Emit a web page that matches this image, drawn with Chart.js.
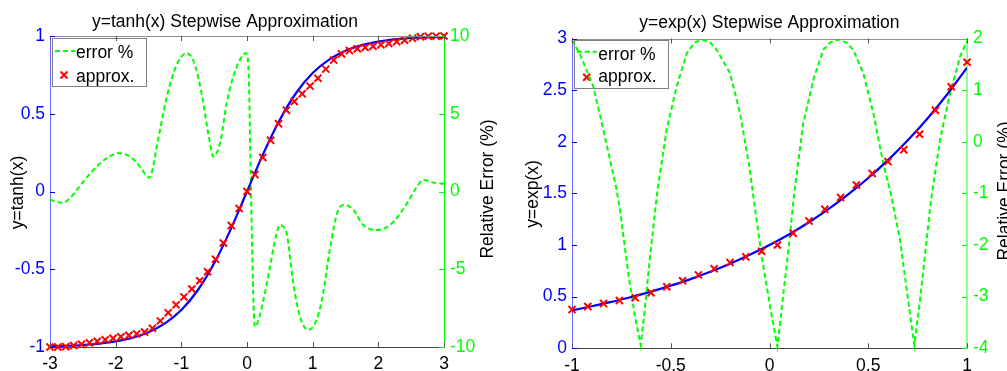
<!DOCTYPE html>
<html>
<head>
<meta charset="utf-8">
<script src="https://cdn.jsdelivr.net/npm/chart.js@4.4.0/dist/chart.umd.min.js"></script>
<style>
  html, body { margin: 0; padding: 0; background: #fff; }
  #wrap { position: relative; width: 1007px; height: 371px; overflow: hidden; }
  .box { position: absolute; top: 0; height: 371px; }
  #leftBox { left: 0; width: 503px; }
  #rightBox { left: 503px; width: 504px; }
</style>
</head>
<body>
<div id="wrap">
  <div class="box" id="leftBox"><canvas id="tanhChart" width="503" height="371"></canvas></div>
  <div class="box" id="rightBox"><canvas id="expChart" width="504" height="371"></canvas></div>
</div>
<script>
// ---- left plot: y = tanh(x) ----
const tanhX = [-3, -2.75, -2.5, -2.25, -2, -1.75, -1.5, -1.25, -1, -0.75, -0.5, -0.25, 0,
  0.25, 0.5, 0.75, 1, 1.25, 1.5, 1.75, 2, 2.25, 2.5, 2.75, 3];
const tanhY = [-0.995, -0.992, -0.987, -0.978, -0.964, -0.941, -0.905, -0.848, -0.762, -0.635, -0.462, -0.245, 0,
  0.245, 0.462, 0.635, 0.762, 0.848, 0.905, 0.941, 0.964, 0.978, 0.987, 0.992, 0.995];

const tanhStepX = [-3, -2.88, -2.76, -2.64, -2.52, -2.4, -2.28, -2.16, -2.04, -1.92, -1.8, -1.68, -1.56,
  -1.44, -1.32, -1.2, -1.08, -0.96, -0.84, -0.72, -0.6, -0.48, -0.36, -0.24, -0.12, 0,
  0.12, 0.24, 0.36, 0.48, 0.6, 0.72, 0.84, 0.96, 1.08, 1.2, 1.32, 1.44, 1.56, 1.68, 1.8,
  1.92, 2.04, 2.16, 2.28, 2.4, 2.52, 2.64, 2.76, 2.88, 3];
const tanhApprox = [-1.0, -1.0, -0.998, -0.991, -0.983, -0.973, -0.963, -0.953, -0.944, -0.934, -0.925, -0.916, -0.904,
  -0.88, -0.832, -0.78, -0.729, -0.678, -0.627, -0.574, -0.516, -0.436, -0.331, -0.219, -0.109, 0,
  0.109, 0.219, 0.329, 0.436, 0.523, 0.579, 0.628, 0.678, 0.729, 0.787, 0.845, 0.885, 0.906, 0.918, 0.926,
  0.934, 0.943, 0.952, 0.963, 0.973, 0.985, 0.995, 0.999, 0.999, 1.0];

const tanhErrX = [-3, -2.9, -2.8, -2.7, -2.59, -2.47, -2.34, -2.14, -1.96, -1.78, -1.63, -1.53, -1.48, -1.43,
  -1.375, -1.325, -1.22, -1.12, -1.02, -0.92, -0.82, -0.74, -0.665, -0.59, -0.51, -0.46, -0.4, -0.31,
  -0.21, -0.11, -0.01, 0.03, 0.05, 0.08, 0.1, 0.12, 0.25, 0.35, 0.45, 0.5, 0.56, 0.605, 0.705, 0.807,
  0.93, 1.06, 1.16, 1.26, 1.39, 1.49, 1.62, 1.77, 1.975, 2.18, 2.3, 2.43, 2.58, 2.68, 2.84, 3];
const tanhErr = [-0.5, -0.68, -0.72, -0.45, 0.1, 0.75, 1.38, 2.13, 2.46, 2.24, 1.6, 1.0, 0.89, 1.6,
  2.88, 3.95, 6.1, 7.6, 8.56, 8.9, 8.45, 7.3, 5.67, 3.74, 2.24, 2.5, 3.3, 5.67,
  7.38, 8.45, 8.9, 7.0, 2.5, -4.0, -7.3, -8.7, -6.98, -4.84, -2.69, -2.15, -2.3, -2.69, -5.9, -8.05,
  -8.9, -8.26, -6.55, -3.76, -1.19, -0.87, -1.19, -2.15, -2.48, -2.15, -1.6, -0.8, 0.25, 0.74, 0.57, 0.5];

const tanhXTicks = [-3, -2, -1, 0, 1, 2, 3];
const tanhYTicks = [-1, -0.5, 0, 0.5, 1];
const tanhErrTicks = [-10, -5, 0, 5, 10];

// ---- right plot: y = exp(x) ----
const expX = [-1, -0.9, -0.8, -0.7, -0.6, -0.5, -0.4, -0.3, -0.2, -0.1, 0,
  0.1, 0.2, 0.3, 0.4, 0.5, 0.6, 0.7, 0.8, 0.9, 1];
const expY = [0.368, 0.407, 0.449, 0.497, 0.549, 0.607, 0.670, 0.741, 0.819, 0.905, 1,
  1.105, 1.221, 1.350, 1.492, 1.649, 1.822, 2.014, 2.226, 2.460, 2.718];

const expStepX = [-1, -0.92, -0.84, -0.76, -0.68, -0.6, -0.52, -0.44, -0.36, -0.28, -0.2, -0.12, -0.04,
  0.04, 0.12, 0.2, 0.28, 0.36, 0.44, 0.52, 0.6, 0.68, 0.76, 0.84, 0.92, 1];
const expApprox = [0.375, 0.404, 0.433, 0.462, 0.489, 0.537, 0.596, 0.654, 0.711, 0.77, 0.83, 0.886, 0.94,
  1.0, 1.114, 1.232, 1.346, 1.461, 1.581, 1.693, 1.808, 1.923, 2.073, 2.305, 2.533, 2.77];

const expErrX = [-1, -0.96, -0.892, -0.841, -0.774, -0.757, -0.715, -0.681, -0.652, -0.63, -0.605, -0.567,
  -0.521, -0.47, -0.419, -0.38, -0.343, -0.3, -0.267, -0.2, -0.149, -0.099, -0.082, -0.039, 0.003,
  0.04, 0.07, 0.1, 0.125, 0.171, 0.222, 0.272, 0.31, 0.348, 0.39, 0.424, 0.475, 0.526, 0.576, 0.614,
  0.661, 0.695, 0.733, 0.762, 0.796, 0.817, 0.863, 0.914, 0.965, 1];
const expErr = [1.97, 1.7, 1.07, 0.23, -0.93, -1.32, -2.55, -3.39, -3.94, -3.19, -2.23, -0.93,
  0.23, 1.07, 1.71, 1.92, 1.98, 1.92, 1.78, 1.33, 0.55, -0.55, -1.06, -2.23, -3.19,
  -3.97, -2.95, -1.95, -1.0, 0.36, 1.2, 1.78, 1.93, 1.98, 1.92, 1.78, 1.33, 0.55, -0.42, -1.0,
  -1.9, -2.87, -3.94, -3.07, -1.9, -1.15, 0.03, 0.94, 1.65, 1.95];

const expXTicks = [-1, -0.5, 0, 0.5, 1];
const expYTicks = [0, 0.5, 1, 1.5, 2, 2.5, 3];
const expErrTicks = [-4, -3, -2, -1, 0, 1, 2];

const FAMILY = "'Liberation Sans', Arial, Helvetica, sans-serif";
const FONT_PX = 17.5;
const FONT = FONT_PX + "px " + FAMILY;
const BLUE = "#0000ff";
const GREEN = "#00ff00";
const RED = "#ff0000";
const TICK_LEN = 5;

function pts(xs, ys) {
  return xs.map(function (x, i) {
    return { x: x, y: ys[i] };
  });
}

function fixTicks(list) {
  return function (scale) {
    scale.ticks = list.map(function (v) {
      return { value: v };
    });
  };
}

// plain matlab-style numbers: 1, 0.5, -0.5 (no forced decimals)
function plainLabel(value) {
  return String(value);
}

function drawX(ctx, cx, cy, r) {
  ctx.beginPath();
  ctx.moveTo(cx - r, cy - r);
  ctx.lineTo(cx + r, cy + r);
  ctx.moveTo(cx - r, cy + r);
  ctx.lineTo(cx + r, cy - r);
  ctx.stroke();
}

function decorPlugin(o) {
  return {
    id: "decor",
    // legend goes under the curves (the error line crosses it in the exp plot)
    beforeDatasetsDraw(chart) {
      let ctx = chart.ctx;
      let b = o.legend;
      ctx.save();
      ctx.fillStyle = "#fff";
      ctx.fillRect(b.x, b.y, b.w, b.h);
      ctx.strokeStyle = "#808080";
      ctx.lineWidth = 1;
      ctx.strokeRect(b.x + 0.5, b.y + 0.5, b.w, b.h);

      ctx.strokeStyle = GREEN;
      ctx.lineWidth = 2;
      ctx.setLineDash([5, 3]);
      ctx.beginPath();
      ctx.moveTo(b.lineX0, b.row1);
      ctx.lineTo(b.lineX1, b.row1);
      ctx.stroke();
      ctx.setLineDash([]);

      ctx.strokeStyle = RED;
      ctx.lineWidth = 2;
      drawX(ctx, b.markX, b.row2, 3.5);

      ctx.fillStyle = "#000";
      ctx.font = FONT;
      ctx.textAlign = "left";
      ctx.textBaseline = "middle";
      ctx.fillText("error %", b.textX, b.text1);
      ctx.fillText("approx.", b.textX, b.text2);
      ctx.restore();
    },
    afterDraw(chart) {
      let ctx = chart.ctx;
      let area = chart.chartArea;
      let sx = chart.scales.x;
      let sy = chart.scales.y;
      let sy2 = chart.scales.y2;
      ctx.save();

      // box line on top
      ctx.strokeStyle = "#8c8c8c";
      ctx.lineWidth = 1;
      ctx.beginPath();
      ctx.moveTo(area.left, Math.round(area.top) + 0.5);
      ctx.lineTo(area.right, Math.round(area.top) + 0.5);
      ctx.stroke();

      // inward tick marks
      ctx.beginPath();
      sx.ticks.forEach(function (t) {
        let px = Math.round(sx.getPixelForValue(t.value)) + 0.5;
        ctx.moveTo(px, area.bottom);
        ctx.lineTo(px, area.bottom - TICK_LEN);
        ctx.moveTo(px, area.top);
        ctx.lineTo(px, area.top + TICK_LEN);
      });
      ctx.strokeStyle = "#555";
      ctx.stroke();

      ctx.beginPath();
      sy.ticks.forEach(function (t) {
        let py = Math.round(sy.getPixelForValue(t.value)) + 0.5;
        ctx.moveTo(area.left, py);
        ctx.lineTo(area.left + TICK_LEN, py);
      });
      ctx.strokeStyle = BLUE;
      ctx.stroke();

      ctx.beginPath();
      sy2.ticks.forEach(function (t) {
        let py = Math.round(sy2.getPixelForValue(t.value)) + 0.5;
        ctx.moveTo(area.right, py);
        ctx.lineTo(area.right - TICK_LEN, py);
      });
      ctx.strokeStyle = GREEN;
      ctx.stroke();

      // title
      ctx.fillStyle = "#000";
      ctx.font = FONT;
      ctx.textAlign = "left";
      ctx.textBaseline = "alphabetic";
      ctx.fillText(o.title, o.titleX, o.titleY);

      // axis titles
      ctx.textAlign = "center";
      ctx.textBaseline = "middle";
      ctx.save();
      ctx.translate(o.yTitle[0], o.yTitle[1]);
      ctx.rotate(-Math.PI / 2);
      ctx.fillText(o.yLabel, 0, 0);
      ctx.restore();
      ctx.save();
      ctx.translate(o.y2Title[0], o.y2Title[1]);
      ctx.rotate(-Math.PI / 2);
      ctx.fillText("Relative Error (%)", 0, 0);
      ctx.restore();

      ctx.restore();
    },
  };
}

function buildChart(canvasId, o) {
  let ctx = document.getElementById(canvasId).getContext("2d");
  return new Chart(ctx, {
    type: "line",
    data: {
      datasets: [
        {
          label: "approx.",
          data: pts(o.stepX, o.approx),
          showLine: false,
          pointStyle: "crossRot",
          pointRadius: 5,
          pointBorderWidth: 2,
          pointBorderColor: RED,
          pointBackgroundColor: RED,
          clip: false,
          yAxisID: "y",
        },
        {
          label: o.yLabel,
          data: pts(o.curveX, o.curveY),
          borderColor: BLUE,
          borderWidth: 2.2,
          pointRadius: 0,
          cubicInterpolationMode: "monotone",
          yAxisID: "y",
        },
        {
          label: "error %",
          data: pts(o.errX, o.err),
          borderColor: GREEN,
          borderWidth: 2,
          borderDash: [5, 3],
          pointRadius: 0,
          cubicInterpolationMode: o.errSmooth ? "monotone" : "default",
          tension: 0,
          clip: 4,
          yAxisID: "y2",
        },
      ],
    },
    options: {
      responsive: false,
      animation: false,
      events: [],
      layout: {
        padding: { top: o.top, left: 0, right: 0, bottom: 0 },
      },
      plugins: {
        legend: { display: false },
        tooltip: { enabled: false },
        title: { display: false },
      },
      scales: {
        x: {
          type: "linear",
          min: o.xTicks[0],
          max: o.xTicks[o.xTicks.length - 1],
          afterBuildTicks: fixTicks(o.xTicks),
          afterFit: function (scale) {
            scale.height = o.xAxisH;
          },
          grid: { display: false, drawTicks: false },
          border: { color: "#444", width: 1 },
          ticks: {
            color: "#000",
            font: { family: FAMILY, size: FONT_PX },
            padding: 7,
            maxRotation: 0,
            autoSkip: false,
            callback: plainLabel,
          },
        },
        y: {
          position: "left",
          min: o.yTicks[0],
          max: o.yTicks[o.yTicks.length - 1],
          afterBuildTicks: fixTicks(o.yTicks),
          afterFit: function (scale) {
            scale.width = o.yAxisW;
          },
          grid: { display: false, drawTicks: false },
          border: { color: "rgba(60,60,255,0.75)", width: 1 },
          ticks: {
            color: BLUE,
            font: { family: FAMILY, size: FONT_PX },
            padding: 5,
            autoSkip: false,
            callback: plainLabel,
          },
        },
        y2: {
          position: "right",
          min: o.errTicks[0],
          max: o.errTicks[o.errTicks.length - 1],
          afterBuildTicks: fixTicks(o.errTicks),
          afterFit: function (scale) {
            scale.width = o.y2AxisW;
          },
          grid: { display: false, drawTicks: false },
          border: { color: o.y2Border, width: o.y2BorderW },
          ticks: {
            color: GREEN,
            font: { family: FAMILY, size: FONT_PX },
            padding: 6,
            autoSkip: false,
            callback: plainLabel,
          },
        },
      },
    },
    plugins: [decorPlugin(o)],
  });
}

buildChart("tanhChart", {
  curveX: tanhX,
  curveY: tanhY,
  stepX: tanhStepX,
  approx: tanhApprox,
  errX: tanhErrX,
  err: tanhErr,
  errSmooth: true,
  xTicks: tanhXTicks,
  yTicks: tanhYTicks,
  errTicks: tanhErrTicks,
  top: 36,
  xAxisH: 24,
  yAxisW: 50,
  y2AxisW: 59,
  y2Border: GREEN,
  y2BorderW: 1,
  title: "y=tanh(x) Stepwise Approximation",
  titleX: 92,
  titleY: 27,
  yLabel: "y=tanh(x)",
  yTitle: [18.5, 192.5],
  y2Title: [488, 189],
  legend: {
    x: 52, y: 38, w: 94, h: 48,
    lineX0: 55, lineX1: 75, row1: 51, markX: 64, row2: 75,
    textX: 76, text1: 53.5, text2: 77,
  },
});

buildChart("expChart", {
  curveX: expX,
  curveY: expY,
  stepX: expStepX,
  approx: expApprox,
  errX: expErrX,
  err: expErr,
  errSmooth: false,
  xTicks: expXTicks,
  yTicks: expYTicks,
  errTicks: expErrTicks,
  top: 38.5,
  xAxisH: 22.7,
  yAxisW: 69,
  y2AxisW: 40,
  y2Border: "#8cff8c",
  y2BorderW: 2,
  title: "y=exp(x) Stepwise Approximation",
  titleX: 136.3,
  titleY: 28.3,
  yLabel: "y=exp(x)",
  yTitle: [30.3, 194],
  y2Title: [502, 191],
  legend: {
    x: 71, y: 40, w: 94, h: 48,
    lineX0: 73.7, lineX1: 93.7, row1: 51.7, markX: 83.7, row2: 77.3,
    textX: 95.3, text1: 55, text2: 77.5,
  },
});
</script>
</body>
</html>
